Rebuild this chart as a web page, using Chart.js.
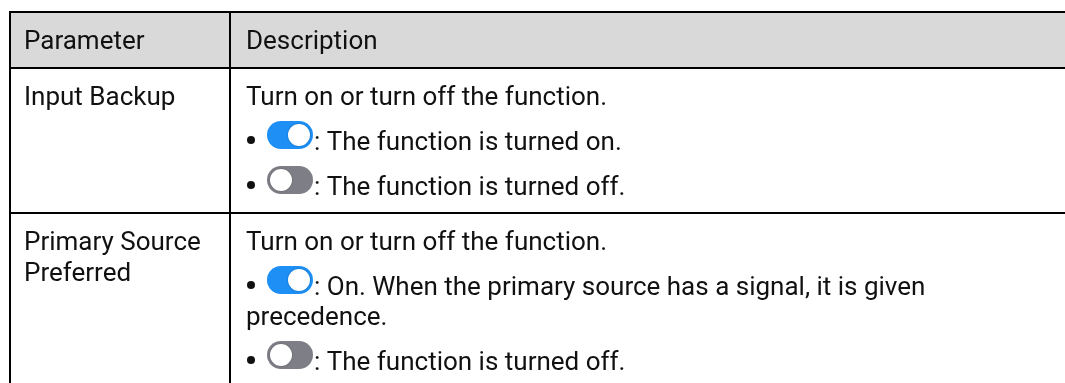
<!DOCTYPE html>
<html>
<head>
<meta charset="utf-8">
<script src="https://cdn.jsdelivr.net/npm/chart.js@4.4.0/dist/chart.umd.min.js"></script>
<style>
  html, body { margin: 0; padding: 0; background: #fff; }
  #wrap { width: 1065px; height: 383px; }
</style>
</head>
<body>
<div id="wrap"><canvas id="table" width="1065" height="383"></canvas></div>
<script>
// table content
var headers = ['Parameter', 'Description'];
var paramNames = [['Input Backup'], ['Primary Source', 'Preferred']];
var introTexts = ['Turn on or turn off the function.', 'Turn on or turn off the function.'];
var bulletStates = [['on', 'off'], ['on', 'off']];
var bulletTexts = [
    ['The function is turned on.', 'The function is turned off.'],
    ['On. When the primary source has a signal, it is given precedence.', 'The function is turned off.']
];

// layout (page pixels)
var FONT = '26px Roboto';
var TEXT_COLOR = '#111';
var LINE_W = 2;
var tableLeft = 10, tableTop = 12, colSplit = 230;
var headerBottom = 68, rowBottoms = [213, 420];
var padX = 14, firstBase = 36.5, paraStep = 45, wrapStep = 31;
var wrapWidth = 700;

function toggle(ctx, x, yMid, on) {
    var w = 46, h = 28, r = h / 2;
    ctx.save();
    ctx.fillStyle = on ? '#1d8ff5' : '#7e7e87';
    ctx.beginPath();
    ctx.arc(x + r, yMid, r, Math.PI / 2, Math.PI * 1.5);
    ctx.arc(x + w - r, yMid, r, -Math.PI / 2, Math.PI / 2);
    ctx.closePath();
    ctx.fill();
    ctx.fillStyle = '#fff';
    ctx.shadowColor = 'rgba(0,0,0,0.3)';
    ctx.shadowBlur = 2;
    ctx.beginPath();
    ctx.arc(on ? x + w - r : x + r, yMid, r - 3, 0, Math.PI * 2);
    ctx.fill();
    ctx.restore();
    return x + w;
}

function wrapLine(ctx, text, maxW) {
    var words = text.split(' '), lines = [], cur = '';
    words.forEach(function(w) {
        var test = cur ? cur + ' ' + w : w;
        if (cur && ctx.measureText(test).width > maxW) {
            lines.push(cur);
            cur = w;
        } else {
            cur = test;
        }
    });
    if (cur) lines.push(cur);
    return lines;
}

var tablePlugin = {
    id: 'tablePlugin',
    afterDraw: function(chart) {
        var ctx = chart.ctx;
        var xs = chart.scales.x, ys = chart.scales.y;
        var px = function(v) { return xs.getPixelForValue(v); };
        var py = function(v) { return ys.getPixelForValue(v); };
        var right = chart.chartArea.right, bottom = chart.chartArea.bottom;

        ctx.save();
        // header background
        ctx.fillStyle = '#d9d9d9';
        ctx.fillRect(px(tableLeft), py(tableTop), right - px(tableLeft), py(headerBottom) - py(tableTop));

        // grid lines
        ctx.strokeStyle = '#000';
        ctx.lineWidth = LINE_W;
        ctx.beginPath();
        [tableTop, headerBottom].concat(rowBottoms).forEach(function(y) {
            ctx.moveTo(px(tableLeft) - 1, py(y));
            ctx.lineTo(right, py(y));
        });
        ctx.moveTo(px(tableLeft), py(tableTop));
        ctx.lineTo(px(tableLeft), bottom);
        ctx.moveTo(px(colSplit), py(tableTop));
        ctx.lineTo(px(colSplit), bottom);
        ctx.stroke();

        ctx.font = FONT;
        ctx.fillStyle = TEXT_COLOR;
        ctx.textBaseline = 'alphabetic';
        var c1 = px(tableLeft + padX), c2 = px(colSplit + padX + 2);

        // header
        ctx.fillText(headers[0], c1, py(tableTop + firstBase));
        ctx.fillText(headers[1], c2, py(tableTop + firstBase));

        // rows
        var tops = [headerBottom].concat(rowBottoms);
        paramNames.forEach(function(names, i) {
            var top = tops[i];
            names.forEach(function(n, k) {
                ctx.fillText(n, c1, py(top + firstBase + k * wrapStep));
            });
            var y = top + firstBase;
            ctx.fillText(introTexts[i], c2, py(y));
            bulletStates[i].forEach(function(st, b) {
                y += paraStep;
                ctx.fillStyle = TEXT_COLOR;
                ctx.beginPath();
                ctx.arc(c2 + 5, py(y) - 9.5, 4, 0, Math.PI * 2);
                ctx.fill();
                var tx = toggle(ctx, c2 + 21, py(y) - 14.5, st === 'on');
                ctx.fillStyle = TEXT_COLOR;
                var first = wrapLine(ctx, ': ' + bulletTexts[i][b], wrapWidth - (tx - c2));
                ctx.fillText(first[0], tx + 1, py(y));
                var rest = first.slice(1).join(' ');
                if (rest) {
                    wrapLine(ctx, rest, wrapWidth).forEach(function(l) {
                        y += wrapStep - 1;
                        ctx.fillText(l, c2, py(y));
                    });
                }
            });
        });
        ctx.restore();
    }
};

new Chart(document.getElementById('table'), {
    type: 'scatter',
    data: { datasets: [] },
    options: {
        responsive: false,
        animation: false,
        events: [],
        layout: { padding: 0 },
        plugins: { legend: { display: false }, tooltip: { enabled: false } },
        scales: {
            x: { type: 'linear', min: 0, max: 1065, display: false },
            y: { type: 'linear', min: 0, max: 383, reverse: true, display: false }
        }
    },
    plugins: [tablePlugin]
});
</script>
</body>
</html>
